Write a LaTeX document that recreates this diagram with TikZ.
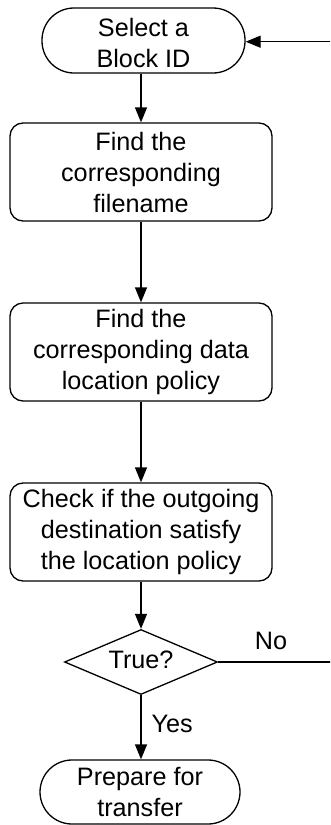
\documentclass[tikz,border=0pt]{standalone}
\usepackage{fontspec}
\setmainfont{Liberation Sans}
\usetikzlibrary{shapes.geometric,arrows.meta}
\begin{document}
\begin{tikzpicture}[x=1pt,y=-1pt,
  every node/.style={font=\fontsize{25.2}{31}\selectfont, align=center, inner sep=0pt},
  terminal/.style={draw, line width=1.3pt, rounded corners=32pt},
  process/.style={draw, line width=1.3pt, rounded corners=13pt, minimum width=262pt, minimum height=98pt},
  decision/.style={draw, line width=1.3pt, diamond, aspect=2.35, minimum width=153pt, minimum height=65pt, inner sep=0pt},
  flow/.style={line width=1.3pt, -{Triangle[length=15pt,width=12pt]}},
  plain/.style={line width=1.3pt}]
\clip (0,0) rectangle (330,825);
\fill[white] (0,0) rectangle (330,825);

\node[terminal, minimum width=203pt, minimum height=65pt] (start) at (143.5,40.5) {};
\node at (143.5,43) {Select a\\Block ID};
\node[process] (fname) at (141,172) {Find the\\corresponding\\filename};
\node[process] (policy) at (141,352) {Find the\\corresponding data\\location policy};
\node[process] (check) at (141,532) {Check if the outgoing\\destination satisfy\\the location policy};
\node[decision] (dec) at (141,662) {};
\node at (141,660) {True?};
\node[terminal, minimum width=200pt, minimum height=64pt] (finish) at (140,792) {Prepare for\\transfer};

\coordinate (loopB) at (340,662);
\coordinate (loopT) at (340,41.7);

\draw[flow] (start.south -| fname.north) -- (fname.north);
\draw[flow] (fname) -- (policy);
\draw[flow] (policy) -- (check);
\draw[flow] (check) -- (dec);
\draw[flow] (dec) -- node[right=10pt, pos=0.45] {Yes} (finish.north -| dec.south);
\draw[plain] (dec.east) -- (loopB);
\draw[flow] (loopB) -- (loopT) -- (start.east |- loopT);
\node at (271,641) {No};
\end{tikzpicture}
\end{document}
